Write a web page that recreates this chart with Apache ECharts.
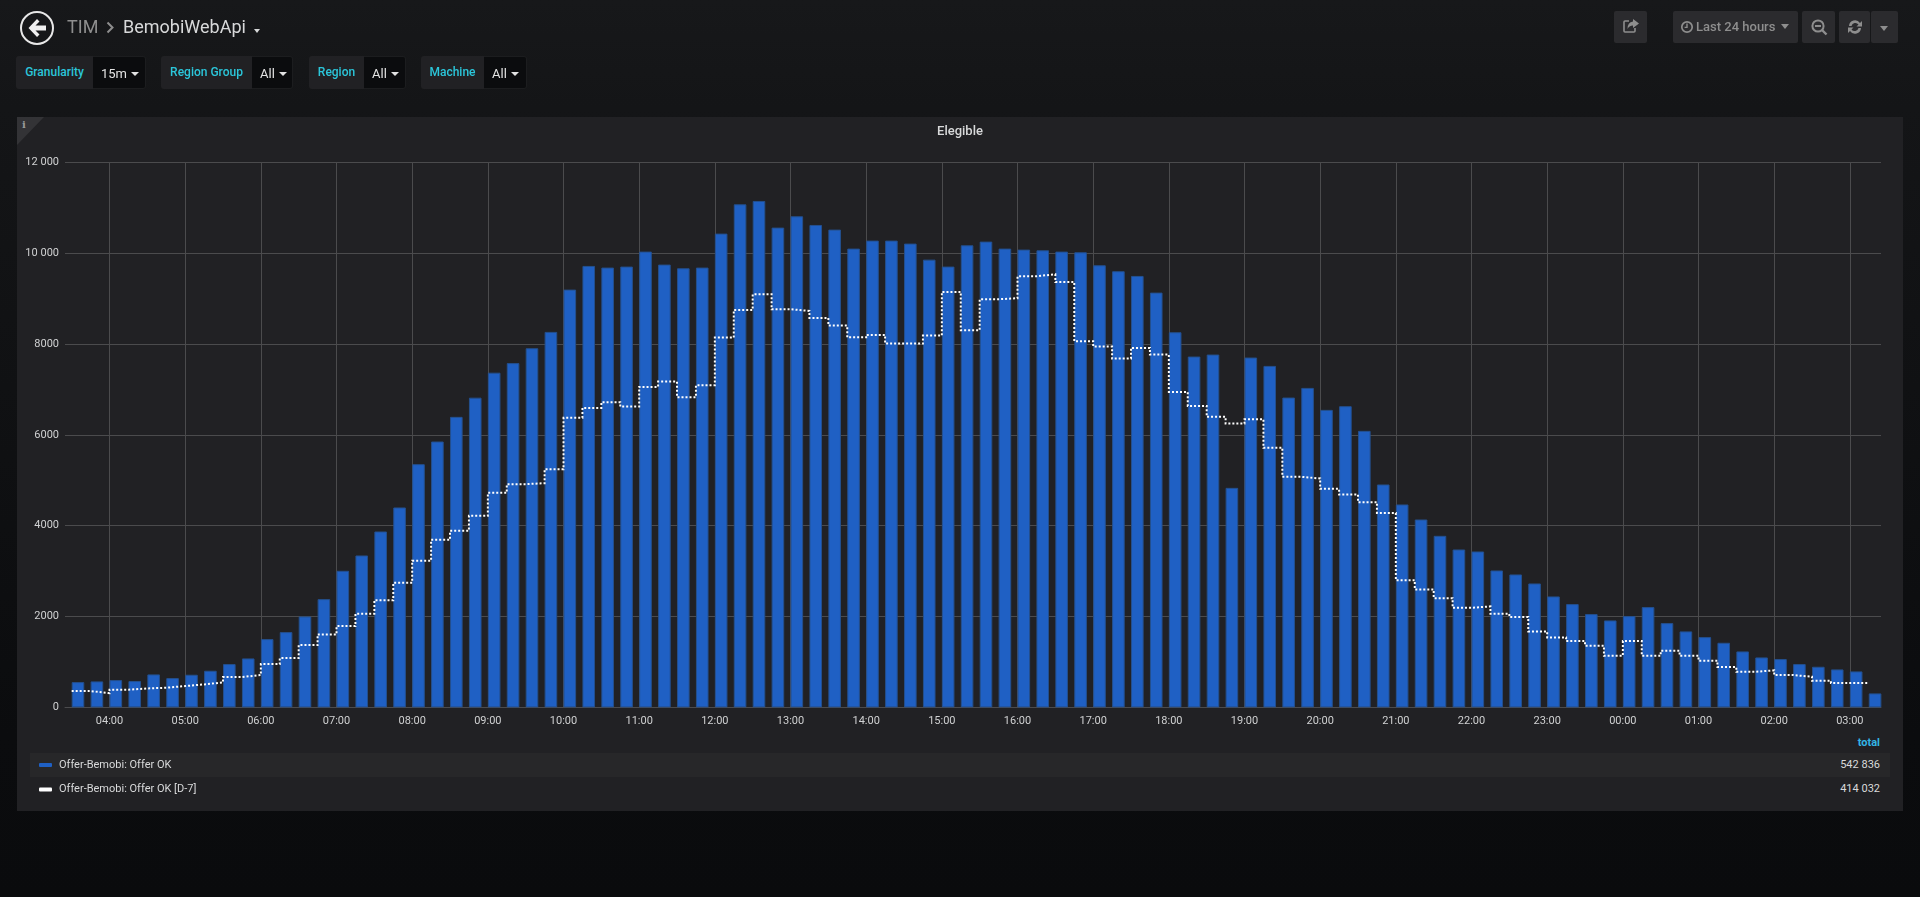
<!DOCTYPE html>
<html>
<head>
<meta charset="utf-8">
<title>Elegible</title>
<script src="https://cdn.jsdelivr.net/npm/echarts@6/dist/echarts.min.js"></script>
<style>
html,body{margin:0;padding:0;width:1920px;height:897px;overflow:hidden;font-family:Roboto,"Noto Sans",sans-serif;}
body{background:linear-gradient(#17181a 0,#141517 12%,#0b0c0e 82%,#0a0b0d 100%);position:relative;}
.abs{position:absolute;}
.panel{left:17px;top:117px;width:1886px;height:694px;background:#212124;}
.corner{left:17px;top:117px;width:0;height:0;border-top:28px solid #333336;border-right:27px solid transparent;}
.info{left:22px;top:119px;font:bold 10px "DejaVu Serif",serif;color:#9a9a9a;}
.row{left:30px;width:1860px;height:24px;}
.row1{top:753px;background:#272729;}
.total{right:40px;text-align:right;font-size:11px;color:#d8d9da;line-height:14px;}
.totalhead{right:40px;top:736px;font-size:11px;font-weight:700;color:#33b5e5;line-height:14px;}
#chart{left:0;top:0;width:1920px;height:897px;}
.crumb{top:16px;font-size:18px;line-height:22px;}
.varlabel{top:56px;height:33px;line-height:33px;background:#212124;border-radius:3px 0 0 3px;color:#2bc6da;font-size:12px;font-weight:500;text-align:center;box-sizing:border-box;}
.varvalue{top:56px;height:33px;line-height:33px;background:#0b0c0e;border-radius:0 3px 3px 0;color:#e3e3e3;font-size:13px;box-sizing:border-box;padding-left:8px;border:1px solid #1c1d1f;border-left:none;}
.caret{display:inline-block;width:0;height:0;border-left:4px solid transparent;border-right:4px solid transparent;border-top:4px solid #e3e3e3;vertical-align:2px;margin-left:4px;}
.btn{top:11px;height:32px;background:#2b2b2e;border-radius:2px;color:#8e8e8e;font-size:13px;font-weight:500;line-height:32px;}
</style>
</head>
<body>
<div class="abs panel"></div>
<div class="abs corner"></div>
<div class="abs info">i</div>
<div class="abs row row1"></div>
<div class="abs totalhead">total</div>
<div id="totals"></div>
<div class="abs" id="chart"></div>

<svg class="abs" style="left:19px;top:10px" width="36" height="36" viewBox="0 0 36 36">
  <circle cx="18" cy="18" r="16" fill="none" stroke="#e8e8e8" stroke-width="2"/>
  <path d="M18 9 L9.5 18 L18 27 L20.5 24.5 L16.5 20.5 H27 V15.5 H16.5 L20.5 11.5 Z" fill="#f0f0f0"/>
</svg>
<div class="abs crumb" style="left:67px;color:#8e8e8e">TIM</div>
<svg class="abs" style="left:106px;top:21px" width="9" height="13" viewBox="0 0 9 13"><path d="M1.5 1.5 L6.5 6.5 L1.5 11.5" fill="none" stroke="#8e8e8e" stroke-width="2"/></svg>
<div class="abs crumb" style="left:123px;color:#d8d9da">BemobiWebApi</div>
<div class="abs" style="left:254px;top:29px;width:0;height:0;border-left:3.5px solid transparent;border-right:3.5px solid transparent;border-top:4px solid #d8d9da"></div>
<div id="vars"></div>

<div class="abs btn" style="left:1614px;width:33px"></div>
<svg class="abs" style="left:1622px;top:17px" width="18" height="18" viewBox="0 0 18 18">
  <path d="M7 4 H3 Q2 4 2 5 V14 Q2 15 3 15 H12 Q13 15 13 14 V11" fill="none" stroke="#8e8e8e" stroke-width="1.6"/>
  <path d="M11 2 L17 6.5 L11 11 V8.5 Q7 8.5 5.5 12 Q5.5 5 11 4.5 Z" fill="#8e8e8e"/>
</svg>
<div class="abs btn" style="left:1673px;width:125px"></div>
<svg class="abs" style="left:1680px;top:20px" width="14" height="14" viewBox="0 0 14 14"><circle cx="7" cy="7" r="5.2" fill="none" stroke="#8e8e8e" stroke-width="1.7"/><path d="M7 3.5 V7.4 H4.6" fill="none" stroke="#8e8e8e" stroke-width="1.4"/></svg>
<div class="abs" style="left:1696px;top:11px;line-height:32px;font-size:13px;font-weight:500;color:#8e8e8e">Last 24 hours</div>
<div class="abs" style="left:1781px;top:24px;width:0;height:0;border-left:4px solid transparent;border-right:4px solid transparent;border-top:5px solid #8e8e8e"></div>
<div class="abs btn" style="left:1802px;width:33px"></div>
<svg class="abs" style="left:1810px;top:18px" width="18" height="18" viewBox="0 0 18 18"><circle cx="8" cy="8" r="5.6" fill="none" stroke="#8e8e8e" stroke-width="2"/><path d="M5 8 H11" stroke="#8e8e8e" stroke-width="2"/><path d="M12 12 L16.5 16.5" stroke="#8e8e8e" stroke-width="2.4"/></svg>
<div class="abs btn" style="left:1839px;width:31px"></div>
<div class="abs btn" style="left:1871px;width:27px"></div>
<svg class="abs" style="left:1847px;top:19px" width="16" height="16" viewBox="0 0 16 16"><path d="M2 7 A6 6 0 0 1 13 4 L15 2 V7.5 H9.5 L11.5 5.5 A4 4 0 0 0 4.5 7 Z M14 9 A6 6 0 0 1 3 12 L1 14 V8.5 H6.5 L4.5 10.5 A4 4 0 0 0 11.5 9 Z" fill="#8e8e8e"/></svg>
<div class="abs" style="left:1880px;top:26px;width:0;height:0;border-left:4px solid transparent;border-right:4px solid transparent;border-top:5px solid #8e8e8e"></div>

<script>
var timeLabels = ['03:30','03:45','04:00','04:15','04:30','04:45','05:00','05:15','05:30','05:45','06:00','06:15',
'06:30','06:45','07:00','07:15','07:30','07:45','08:00','08:15','08:30','08:45','09:00','09:15',
'09:30','09:45','10:00','10:15','10:30','10:45','11:00','11:15','11:30','11:45','12:00','12:15',
'12:30','12:45','13:00','13:15','13:30','13:45','14:00','14:15','14:30','14:45','15:00','15:15',
'15:30','15:45','16:00','16:15','16:30','16:45','17:00','17:15','17:30','17:45','18:00','18:15',
'18:30','18:45','19:00','19:15','19:30','19:45','20:00','20:15','20:30','20:45','21:00','21:15',
'21:30','21:45','22:00','22:15','22:30','22:45','23:00','23:15','23:30','23:45','00:00','00:15',
'00:30','00:45','01:00','01:15','01:30','01:45','02:00','02:15','02:30','02:45','03:00','03:15'];
var offerOk = [557,572,601,580,726,645,719,807,954,1078,1504,1658,
2003,2384,3008,3345,3873,4402,5355,5854,6397,6820,7370,7581,
7908,8268,9199,9720,9684,9706,10036,9750,9669,9684,10432,11077,
11151,10564,10813,10622,10520,10102,10278,10278,10212,9859,9706,10175,
10256,10102,10080,10065,10036,10021,9735,9603,9500,9133,8260,7725,
7769,4834,7703,7519,6822,7035,6551,6632,6089,4908,4468,4137,
3778,3477,3433,3015,2927,2729,2443,2274,2054,1915,2010,2208,
1856,1673,1548,1423,1232,1100,1064,954,895,836,792,308];
var offerOkD7 = [359,315,389,418,433,470,506,550,668,712,954,1086,
1372,1607,1790,2061,2362,2744,3228,3690,3888,4218,4724,4915,
4937,5245,6375,6595,6720,6624,7057,7175,6830,7094,8143,8752,
9097,8767,8730,8576,8407,8150,8202,8011,8011,8187,9148,8304,
8987,9009,9493,9537,9368,8062,7945,7681,7916,7769,6947,6639,
6397,6250,6346,5715,5077,5040,4812,4688,4517,4281,2801,2596,
2406,2193,2223,2061,1988,1673,1541,1460,1357,1137,1460,1137,
1247,1137,1027,888,785,814,712,675,587,536,536,536];
var xTickLabels = ['04:00','05:00','06:00','07:00','08:00','09:00','10:00','11:00','12:00','13:00','14:00','15:00',
'16:00','17:00','18:00','19:00','20:00','21:00','22:00','23:00','00:00','01:00','02:00','03:00'];
var yTickLabels = ['0','2000','4000','6000','8000','10 000','12 000'];
var seriesNames = ['Offer-Bemobi: Offer OK','Offer-Bemobi: Offer OK [D-7]'];
var seriesTotals = ['542 836','414 032'];
var variables = [['Granularity','15m'],['Region Group','All'],['Region','All'],['Machine','All']];
var panelTitle = 'Elegible';

function toMinutes(list){
  var out=[],prev=-1,add=0;
  list.forEach(function(s){
    var p=s.split(':'),m=+p[0]*60+ +p[1];
    if(m<prev)add=1440;
    prev=m;out.push(m+add);
  });
  return out;
}
function fmt(m){
  var v=((m%1440)+1440)%1440,h=Math.floor(v/60),n=Math.round(v-h*60);
  return (h<10?'0':'')+h+':'+(n<10?'0':'')+n;
}
var bucketMinutes=toMinutes(timeLabels);
var tickMinutes=toMinutes(xTickLabels);
var barHalfMinutes=5;   /* bars start at the bucket's time and span 10 minutes */
var xMin=204.7,xMax=xMin+1440;

/* chrome built from the lists */
var varBoxes=[[16,93,146],[161,252,293],[309,364,406],[421,484,527]];
var vh='';
variables.forEach(function(v,i){
  var b=varBoxes[i];
  vh+='<div class="abs varlabel" style="left:'+b[0]+'px;width:'+(b[1]-b[0])+'px">'+v[0]+'</div>';
  vh+='<div class="abs varvalue" style="left:'+b[1]+'px;width:'+(b[2]-b[1])+'px">'+v[1]+'<span class="caret"></span></div>';
});
document.getElementById('vars').innerHTML=vh;
var th='';
seriesTotals.forEach(function(t,i){th+='<div class="abs total" style="top:'+(758+i*24)+'px">'+t+'</div>';});
document.getElementById('totals').innerHTML=th;

var chart=echarts.init(document.getElementById('chart'),null,{renderer:'canvas',width:1920,height:897});
var gridColor='#4b4b4d';
var labelColor='#d0d1d2';
chart.setOption({
  backgroundColor:'transparent',
  animation:false,
  textStyle:{fontFamily:'Roboto'},
  title:{text:panelTitle,left:'center',top:125.5,padding:0,
    textStyle:{color:'#d8d9da',fontSize:13,fontWeight:500,fontFamily:'Roboto'}},
  grid:{left:65,right:39,top:162.4,bottom:189.6,containLabel:false},
  legend:{
    orient:'vertical',left:39,top:759.5,padding:0,itemWidth:13,itemHeight:4,itemGap:13.5,icon:'roundRect',
    textStyle:{color:'#d8d9da',fontSize:11,fontFamily:'Roboto',padding:[0,0,2,2]},
    selectedMode:false,
    data:[
      {name:seriesNames[0],icon:'roundRect',itemStyle:{color:'#1f60c4',borderWidth:0}},
      {name:seriesNames[1],icon:'roundRect',itemStyle:{color:'#ffffff',borderWidth:0},lineStyle:{width:0}}
    ]
  },
  xAxis:{
    type:'value',min:xMin,max:xMax,
    axisLine:{show:true,onZero:false,lineStyle:{color:gridColor,width:1}},
    axisTick:{show:false,customValues:tickMinutes},
    splitLine:{show:true,lineStyle:{color:gridColor,width:1}},
    axisLabel:{customValues:tickMinutes,color:labelColor,fontSize:11,fontFamily:'Roboto',margin:8,
      hideOverlap:false,formatter:function(v){return fmt(v);}}
  },
  yAxis:{
    type:'value',min:0,max:12000,interval:2000,
    axisLine:{show:false},axisTick:{show:false},
    splitLine:{show:true,lineStyle:{color:gridColor,width:1}},
    axisLabel:{color:labelColor,fontSize:11,fontFamily:'Roboto',margin:6,
      formatter:function(v){return yTickLabels[Math.round(v/2000)];}}
  },
  series:[
    {name:seriesNames[0],type:'bar',barWidth:12.6,clip:true,z:2,
      itemStyle:{color:'#1f60c4',borderColor:'#24508f',borderWidth:1},
      data:bucketMinutes.map(function(m,i){return [m+barHalfMinutes,offerOk[i]];})},
    {name:seriesNames[1],type:'line',step:'end',symbol:'none',showSymbol:false,z:3,
      itemStyle:{color:'#ffffff'},
      lineStyle:{color:'#ffffff',width:2,type:[2,2],cap:'butt',join:'miter'},
      data:bucketMinutes.map(function(m,i){return [m,offerOkD7[i]];})}
  ]
});
</script>
</body>
</html>
